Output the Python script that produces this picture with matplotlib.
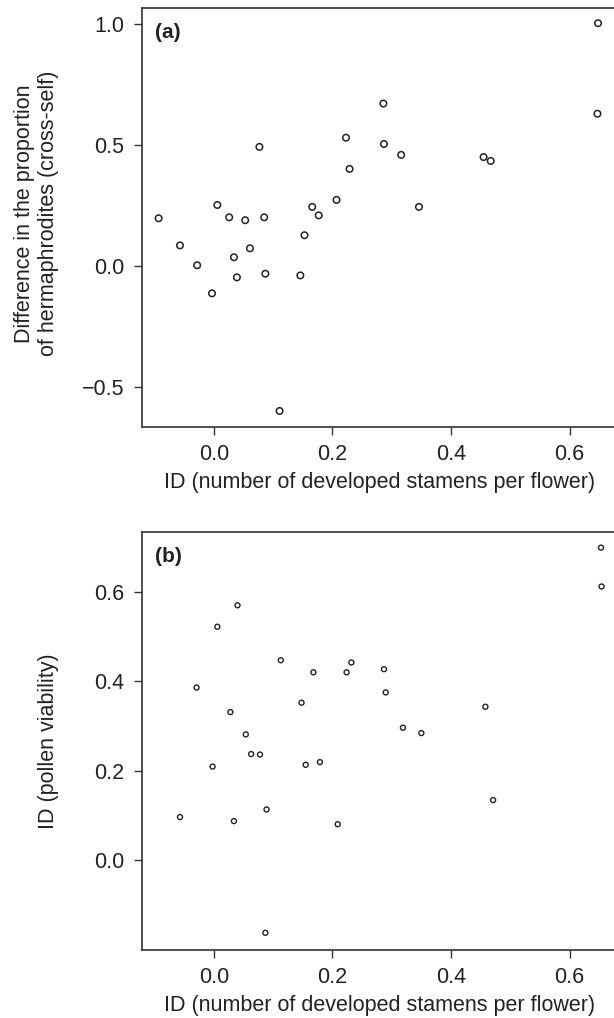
import matplotlib
matplotlib.use("Agg")
import matplotlib.pyplot as plt

plt.rcParams["font.family"] = ["Liberation Sans", "DejaVu Sans"]

# panel (a): ID stamens vs difference in hermaphrodite proportion
a_x = [0.648, 0.647, 0.286, 0.223, 0.287, 0.077, 0.316, 0.455, 0.467, 0.229,
       0.207, 0.006, 0.346, 0.166, 0.177, -0.093, 0.026, 0.053, 0.085, 0.153,
       -0.057, 0.061, 0.034, -0.028, 0.039, 0.087, 0.146, -0.003, 0.111]
a_y = [1.003, 0.629, 0.671, 0.530, 0.504, 0.492, 0.459, 0.450, 0.434, 0.401,
       0.273, 0.252, 0.244, 0.244, 0.209, 0.197, 0.201, 0.189, 0.201, 0.127,
       0.085, 0.073, 0.036, 0.003, -0.047, -0.032, -0.039, -0.113, -0.599]

# panel (b): ID stamens vs ID pollen viability
b_x = [0.653, 0.654, 0.040, 0.006, 0.113, 0.232, 0.168, 0.224, 0.287, -0.029,
       0.290, 0.148, 0.458, 0.028, 0.319, 0.350, 0.054, 0.063, 0.078, -0.002,
       0.155, 0.179, 0.471, 0.089, -0.057, 0.034, 0.209, 0.087]
b_y = [0.699, 0.612, 0.570, 0.522, 0.447, 0.442, 0.420, 0.420, 0.427, 0.386,
       0.375, 0.352, 0.343, 0.331, 0.296, 0.284, 0.281, 0.237, 0.236, 0.209,
       0.213, 0.219, 0.134, 0.113, 0.096, 0.087, 0.080, -0.163]

x_ticks = [0.0, 0.2, 0.4, 0.6]
xlabel = "ID (number of developed stamens per flower)"

fig = plt.figure(figsize=(6.14, 10.18), dpi=100)
ax1 = fig.add_axes([0.2313, 0.5806, 0.7736, 0.4116])
ax2 = fig.add_axes([0.2313, 0.0668, 0.7736, 0.4106])

ink = "#222222"


def style(ax):
    for s in ax.spines.values():
        s.set_color("#333333")
        s.set_linewidth(1.2)
    ax.tick_params(direction="out", length=5.5, width=1, color="#333333",
                   labelsize=15.5, labelcolor=ink, pad=7.5)
    ax.tick_params(axis="x", pad=6.5)
    ax.set_xticks(x_ticks)
    ax.set_xticklabels([f"{t:.1f}" for t in x_ticks])
    ax.set_xlim(-0.121, 0.68)
    ax.set_xlabel(xlabel, fontsize=15.5, color=ink, labelpad=5)


ax1.scatter(a_x, a_y, s=22, facecolors="none", edgecolors=ink, linewidths=1.1)
ax1.set_ylim(-0.665, 1.066)
ax1.set_yticks([-0.5, 0.0, 0.5, 1.0])
ax1.set_yticklabels(["\u22120.5", "0.0", "0.5", "1.0"])
style(ax1)
ax1.set_ylabel("Difference in the proportion\nof hermaphrodites (cross-self)",
               fontsize=15.5, color=ink)
ax1.yaxis.set_label_coords(-0.222, 0.51)
ax1.yaxis.label.set_verticalalignment("center")
ax1.text(0.027, 0.965, "(a)", transform=ax1.transAxes, fontsize=15,
         fontweight="bold", color=ink, va="top")

ax2.scatter(b_x, b_y, s=13, facecolors="none", edgecolors=ink, linewidths=1.0)
ax2.set_ylim(-0.2015, 0.734)
ax2.set_yticks([0.0, 0.2, 0.4, 0.6])
ax2.set_yticklabels(["0.0", "0.2", "0.4", "0.6"])
style(ax2)
ax2.set_ylabel("ID (pollen viability)", fontsize=15.5, color=ink)
ax2.yaxis.set_label_coords(-0.196, 0.5)
ax2.yaxis.label.set_verticalalignment("center")
ax2.text(0.027, 0.965, "(b)", transform=ax2.transAxes, fontsize=15,
         fontweight="bold", color=ink, va="top")

fig.savefig("out.png", dpi=100)
